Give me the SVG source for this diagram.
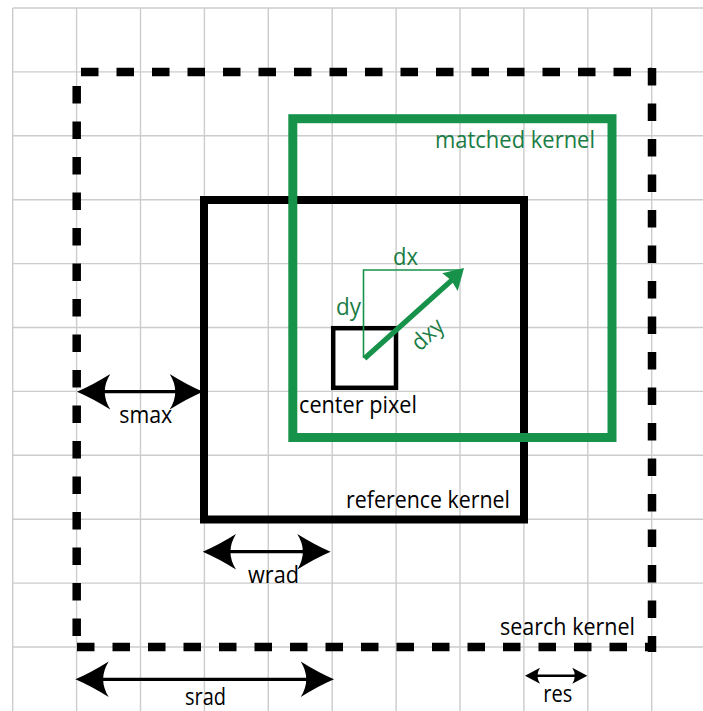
<svg xmlns="http://www.w3.org/2000/svg" width="703" height="711" viewBox="0 0 703 711">
<style>
.grid line{stroke:#cccccc;stroke-width:1.4}
.dash{fill:none;stroke:#000;stroke-width:8.5;stroke-dasharray:17.5 18}
.lbl{font-family:"Open Sans","Liberation Sans",sans-serif;font-size:23px;fill:#000}
.glbl{font-family:"Open Sans","Liberation Sans",sans-serif;font-size:23px;fill:#1a7d45}
.dim{stroke:#000;stroke-width:3.2;fill:none}
.dims{stroke:#000;stroke-width:2.5;fill:none}
</style>
<defs>
<marker id="ah" markerUnits="userSpaceOnUse" markerWidth="40" markerHeight="40" viewBox="-32 -18 34 36" refX="-12" refY="0" orient="auto-start-reverse">
<path d="M0,0 Q-14,-6 -30,-16 Q-20,0 -30,16 Q-14,6 0,0 Z" fill="#000"/>
</marker>
<marker id="ahs" markerUnits="userSpaceOnUse" markerWidth="20" markerHeight="20" viewBox="-17 -10 19 20" refX="-8" refY="0" orient="auto-start-reverse">
<path d="M0,0 L-15,-8 Q-10,0 -15,8 Z" fill="#000"/>
</marker>
</defs>
<rect width="703" height="711" fill="#fff"/>
<g class="grid" id="grid">
<line x1="12.7" y1="8" x2="12.7" y2="711"/>
<line x1="76.6" y1="8" x2="76.6" y2="711"/>
<line x1="140.5" y1="8" x2="140.5" y2="711"/>
<line x1="204.4" y1="8" x2="204.4" y2="711"/>
<line x1="268.3" y1="8" x2="268.3" y2="711"/>
<line x1="332.2" y1="8" x2="332.2" y2="711"/>
<line x1="396.1" y1="8" x2="396.1" y2="711"/>
<line x1="460" y1="8" x2="460" y2="711"/>
<line x1="523.9" y1="8" x2="523.9" y2="711"/>
<line x1="587.8" y1="8" x2="587.8" y2="711"/>
<line x1="651.7" y1="8" x2="651.7" y2="711"/>
<line x1="12.7" y1="8" x2="703" y2="8"/>
<line x1="12.7" y1="71.9" x2="703" y2="71.9"/>
<line x1="12.7" y1="135.8" x2="703" y2="135.8"/>
<line x1="12.7" y1="199.7" x2="703" y2="199.7"/>
<line x1="12.7" y1="263.6" x2="703" y2="263.6"/>
<line x1="12.7" y1="327.5" x2="703" y2="327.5"/>
<line x1="12.7" y1="391.4" x2="703" y2="391.4"/>
<line x1="12.7" y1="455.3" x2="703" y2="455.3"/>
<line x1="12.7" y1="519.2" x2="703" y2="519.2"/>
<line x1="12.7" y1="583.1" x2="703" y2="583.1"/>
<line x1="12.7" y1="647" x2="703" y2="647"/>
</g>
<g id="search-kernel">
<line class="dash" x1="81" y1="72" x2="652" y2="72"/>
<line class="dash" x1="652" y1="68" x2="652" y2="652"/>
<line class="dash" x1="77" y1="647" x2="656" y2="647"/>
<line class="dash" x1="76.7" y1="86" x2="76.7" y2="640"/>
<text class="lbl" x="500" y="635" textLength="135" lengthAdjust="spacingAndGlyphs">search kernel</text>
</g>
<g id="reference-kernel">
<rect x="204" y="200" width="320" height="319.5" fill="none" stroke="#000" stroke-width="8"/>
<text class="lbl" x="346" y="508" textLength="164" lengthAdjust="spacingAndGlyphs">reference kernel</text>
</g>
<g id="matched-kernel">
<rect x="292.8" y="118.7" width="319.2" height="318.8" fill="none" stroke="#17924a" stroke-width="9"/>
<text class="glbl" x="435" y="148.3" textLength="160" lengthAdjust="spacingAndGlyphs">matched kernel</text>
</g>
<g id="center-pixel">
<rect x="333.2" y="328.2" width="62.8" height="59.6" fill="none" stroke="#000" stroke-width="4.5"/>
<text class="lbl" x="299" y="413.3" textLength="118" lengthAdjust="spacingAndGlyphs">center pixel</text>
</g>
<g id="displacement">
<polyline points="363.5,358 363.5,270 463,270" fill="none" stroke="#17924a" stroke-width="1.6"/>
<line x1="364.5" y1="358.5" x2="452" y2="280" stroke="#17924a" stroke-width="5.2"/>
<polygon points="464,268 457.7,291 451.5,280.5 442.3,273.3" fill="#17924a"/>
<text class="glbl" x="393" y="265" textLength="25" lengthAdjust="spacingAndGlyphs">dx</text>
<text class="glbl" x="336" y="315" textLength="25" lengthAdjust="spacingAndGlyphs">dy</text>
<text class="glbl" x="420" y="352" transform="rotate(-43 420 352)" textLength="35" lengthAdjust="spacingAndGlyphs">dxy</text>
</g>
<g id="connectors">
<line class="dim" x1="90.3" y1="391.7" x2="189.7" y2="391.7" marker-start="url(#ah)" marker-end="url(#ah)"/>
<line class="dim" x1="216" y1="551.7" x2="317.3" y2="551.7" marker-start="url(#ah)" marker-end="url(#ah)"/>
<line class="dim" x1="88.7" y1="679.3" x2="320.7" y2="679.3" marker-start="url(#ah)" marker-end="url(#ah)"/>
<line class="dims" x1="533" y1="675.7" x2="579.3" y2="675.7" marker-start="url(#ahs)" marker-end="url(#ahs)"/>
</g>
<g id="dimension-labels">
<text class="lbl" x="119.3" y="423" textLength="53" lengthAdjust="spacingAndGlyphs">smax</text>
<text class="lbl" x="248" y="582.7" textLength="51" lengthAdjust="spacingAndGlyphs">wrad</text>
<text class="lbl" x="185" y="705" textLength="41" lengthAdjust="spacingAndGlyphs">srad</text>
<text class="lbl" x="543.3" y="701.7" textLength="29" lengthAdjust="spacingAndGlyphs">res</text>
</g>
</svg>
